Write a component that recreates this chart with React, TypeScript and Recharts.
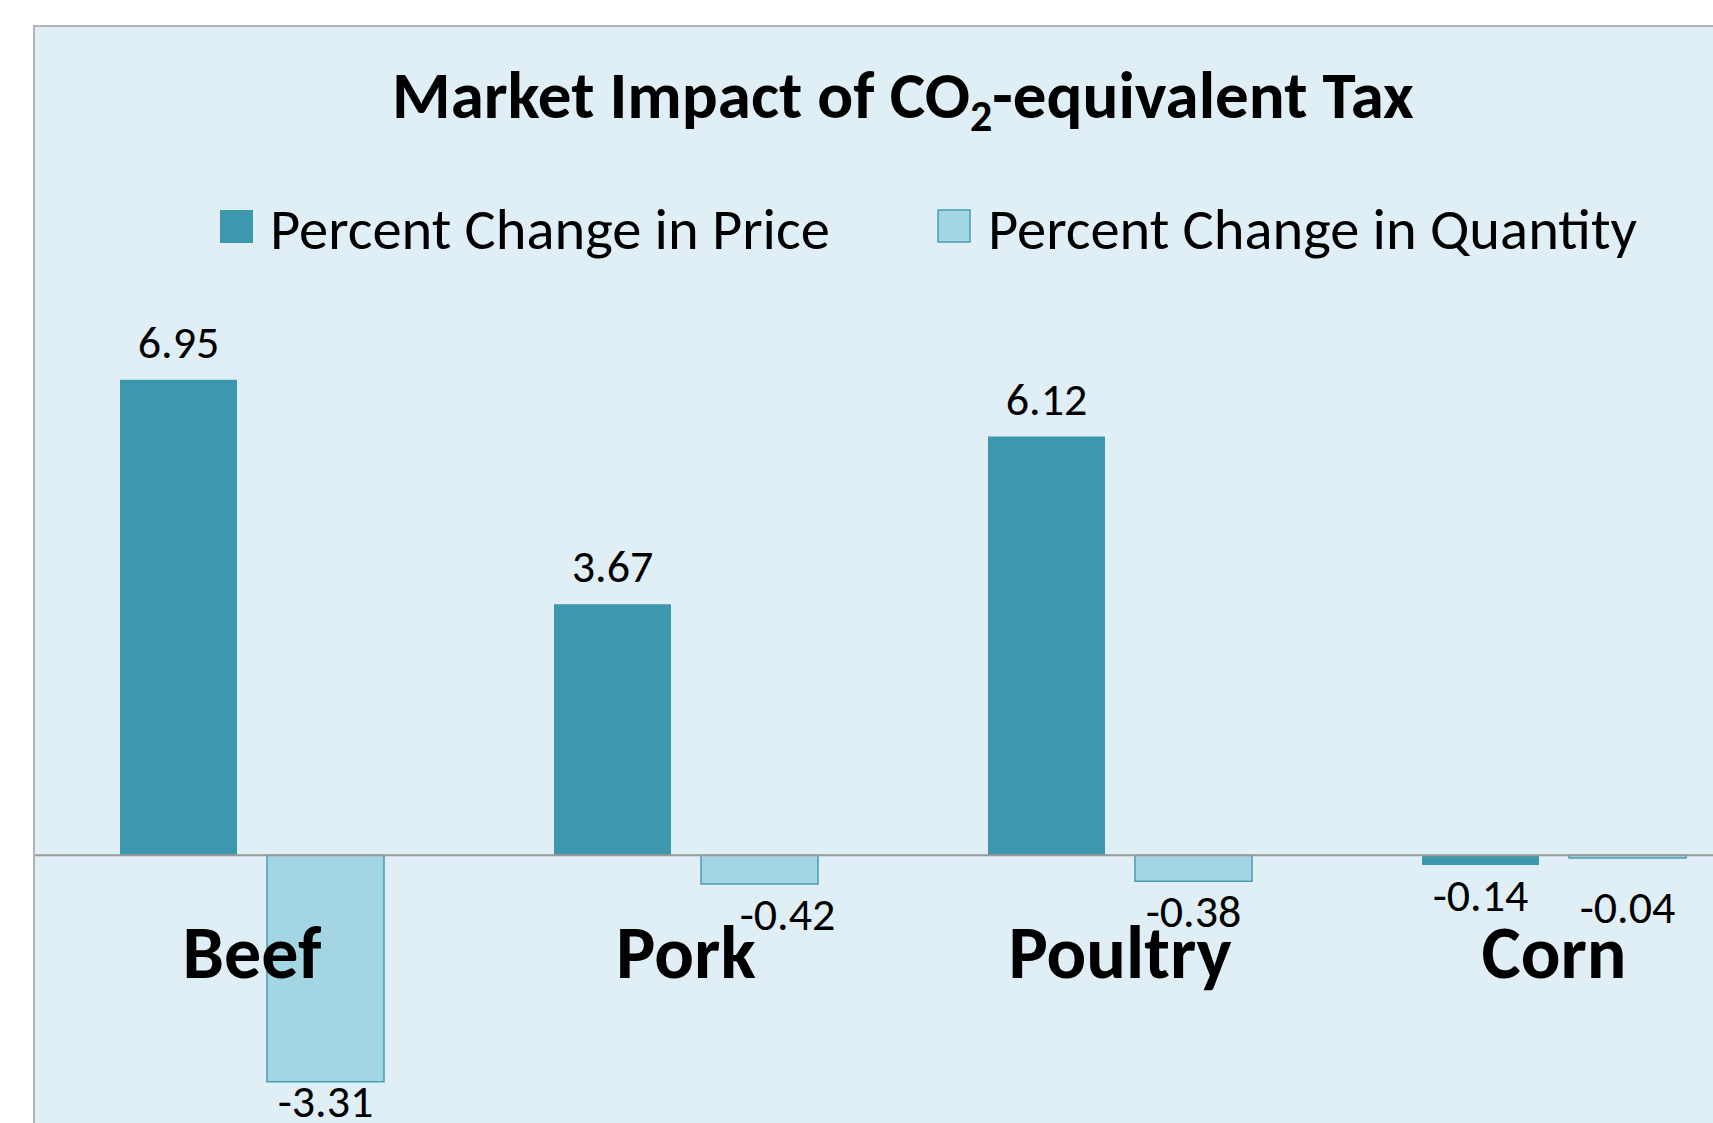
import { BarChart, Bar, XAxis, YAxis, ReferenceLine, LabelList } from "recharts";

// values
const categories = ["Beef", "Pork", "Poultry", "Corn"];
const priceChange = [6.95, 3.67, 6.12, -0.14];
const quantityChange = [-3.31, -0.42, -0.38, -0.04];

const data = categories.map((name, i) => ({
  name,
  price: priceChange[i],
  quantity: quantityChange[i],
}));

const FONT = "Carlito, Lato, 'Open Sans', sans-serif";
const PRICE_COLOR = "#3d97ad";
const QTY_COLOR = "#a3d5e3";
const QTY_STROKE = "#4a9db3";

// chart geometry (chart drawn larger than the page, page crops it)
const CHART_W = 1800;
const CHART_H = 1200;
const AXIS_H = 30;
const MARGIN = { top: 308, right: 29, bottom: 71 - AXIS_H, left: 35 };
const Y_MIN = -4;
const Y_MAX = 8;
const PLOT_H = CHART_H - MARGIN.top - MARGIN.bottom - AXIS_H;
const ZERO_Y = MARGIN.top + (PLOT_H * Y_MAX) / (Y_MAX - Y_MIN);

// a few labels were dragged by hand in the original
const qtyLabelNudge: Record<string, { dx?: number; dy?: number }> = {
  Beef: { dy: -11 },
  Pork: { dx: 28 },
  Corn: { dy: 19 },
};

const makeLabel =
  (nudge: Record<string, { dx?: number; dy?: number }> = {}) =>
  (props: any) => {
    const { x, y, width, height, value, index } = props;
    const top = Math.min(y, y + height);
    const bottom = Math.max(y, y + height);
    const n = nudge[categories[index]] || {};
    const cx = x + width / 2 + (n.dx || 0);
    const ty = (value >= 0 ? top - 22 : bottom + 46) + (n.dy || 0);
    return (
      <text x={cx} y={ty} textAnchor="middle" fontFamily={FONT} fontSize={46} fill="#000">
        {Number(value).toFixed(2)}
      </text>
    );
  };

const renderCategoryTick = (props: any) => {
  const { x, payload } = props;
  return (
    <text
      x={x}
      y={ZERO_Y + 123}
      textAnchor="middle"
      fontFamily={FONT}
      fontWeight={700}
      fontSize={74}
      fill="#000"
    >
      {payload.value}
    </text>
  );
};

export default function App() {
  return (
    <div
      style={{
        position: "fixed",
        left: 0,
        top: 0,
        width: 1713,
        height: 1123,
        overflow: "hidden",
        background: "#fff",
      }}
    >
      {/* chart area box */}
      <div
        style={{
          position: "absolute",
          left: 33,
          top: 25,
          width: 1800,
          height: 1200,
          background: "#e0eff6",
          borderLeft: "2px solid #b5b5b5",
          borderTop: "2px solid #b5b5b5",
        }}
      />
      <div style={{ position: "absolute", left: 0, top: 0 }}>
        <BarChart
          width={CHART_W}
          height={CHART_H}
          data={data}
          margin={MARGIN}
          barSize={117}
          barGap={30}
        >
          {/* title */}
          <text
            x={903}
            y={118}
            textAnchor="middle"
            fontFamily={FONT}
            fontWeight={700}
            fontSize={67}
            fill="#000"
          >
            Market Impact of CO
            <tspan fontSize={44} dy={13}>
              2
            </tspan>
            <tspan dy={-13}>-equivalent Tax</tspan>
          </text>

          {/* legend */}
          <rect x={220} y={210} width={33} height={33} fill={PRICE_COLOR} />
          <text x={270} y={249} fontFamily={FONT} fontSize={58.5} fill="#000">
            Percent Change in Price
          </text>
          <rect
            x={938}
            y={210}
            width={32}
            height={32}
            fill={QTY_COLOR}
            stroke={QTY_STROKE}
            strokeWidth={1.5}
          />
          <text x={988} y={249} fontFamily={FONT} fontSize={58.5} fill="#000">
            Percent Change in Quantity
          </text>

          <XAxis
            dataKey="name"
            axisLine={false}
            tickLine={false}
            height={AXIS_H}
            interval={0}
            tick={renderCategoryTick}
          />
          <YAxis hide domain={[Y_MIN, Y_MAX]} />
          <Bar dataKey="price" fill={PRICE_COLOR} isAnimationActive={false}>
            <LabelList dataKey="price" content={makeLabel()} />
          </Bar>
          <Bar
            dataKey="quantity"
            fill={QTY_COLOR}
            stroke={QTY_STROKE}
            strokeWidth={1.5}
            isAnimationActive={false}
          >
            <LabelList dataKey="quantity" content={makeLabel(qtyLabelNudge)} />
          </Bar>
          <ReferenceLine y={0} stroke="#9a9a9a" strokeWidth={2} />
        </BarChart>
      </div>
    </div>
  );
}
